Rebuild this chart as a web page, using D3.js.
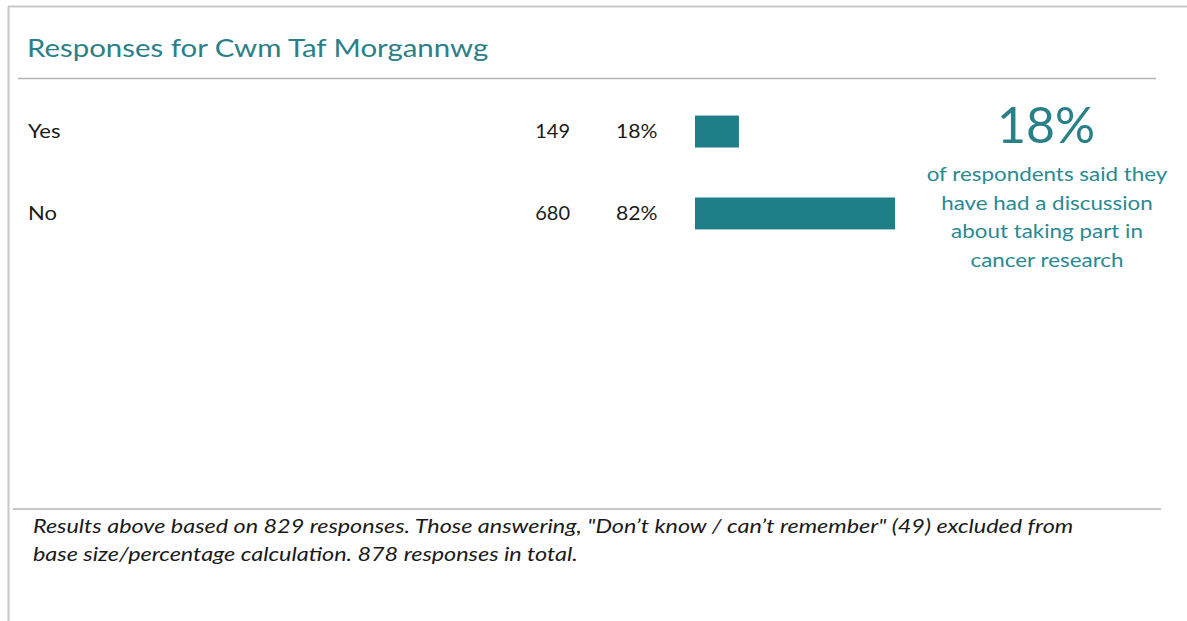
<!DOCTYPE html>
<html>
<head>
<meta charset="utf-8">
<script src="https://cdn.jsdelivr.net/npm/d3@7"></script>
<style>
  html, body { margin: 0; padding: 0; background: #fff; }
  svg { display: block; font-family: Lato, "Open Sans", sans-serif; }
</style>
</head>
<body>
<svg id="chart" width="1187" height="621"></svg>
<script>
const titleText = "Responses for Cwm Taf Morgannwg";
const categories = ["Yes", "No"];
const counts = [149, 680];
const percents = [18, 82];
const highlightValue = "18%";
const highlightLines = ["of respondents said they", "have had a discussion", "about taking part in", "cancer research"];
const footnoteLines = [
  "Results above based on 829 responses. Those answering, \"Don\u2019t know / can\u2019t remember\" (49) excluded from",
  "base size/percentage calculation. 878 responses in total."
];

const teal = "#1f7f88";
const svg = d3.select("#chart");

// frame
svg.append("line").attr("x1", 8).attr("x2", 1187).attr("y1", 6.5).attr("y2", 6.5)
  .attr("stroke", "#c8c8c8").attr("stroke-width", 2);
svg.append("line").attr("x1", 8.5).attr("x2", 8.5).attr("y1", 6).attr("y2", 621)
  .attr("stroke", "#c8c8c8").attr("stroke-width", 2);

// title
svg.append("g").attr("transform", "translate(27,0) scale(1.2,1)")
  .append("text").attr("x", 0).attr("y", 57).attr("fill", "#2a8088")
  .attr("font-size", 24.5).text(titleText);
svg.append("line").attr("x1", 18).attr("x2", 1156).attr("y1", 78.5).attr("y2", 78.5)
  .attr("stroke", "#b4b4b4").attr("stroke-width", 1.5);

// scales
const y = d3.scaleBand().domain(categories).range([91, 254]).paddingInner(0.61).paddingOuter(0.3);
const x = d3.scaleLinear().domain([0, 100]).range([695, 939]);

const rows = svg.append("g").selectAll("g").data(categories).join("g");
const yc = d => y(d) + y.bandwidth() / 2;
const fs = 20;

rows.append("text").attr("x", 28).attr("y", d => yc(d) + 6.5)
  .attr("font-size", fs).attr("fill", "#1a1a1a").text(d => d)
  .attr("transform", "translate(28,0) scale(1.1,1) translate(-28,0)");
rows.append("text").attr("x", 570).attr("y", d => yc(d) + 6.5).attr("text-anchor", "end")
  .attr("font-size", fs).attr("fill", "#1a1a1a").text((d, i) => counts[i]);
rows.append("text").attr("x", 616).attr("y", d => yc(d) + 6.5)
  .attr("font-size", fs).attr("fill", "#1a1a1a").text((d, i) => percents[i] + "%")
  .attr("transform", "translate(616,0) scale(1.06,1) translate(-616,0)");
rows.append("rect").attr("x", x(0)).attr("y", d => y(d))
  .attr("width", (d, i) => x(percents[i]) - x(0)).attr("height", y.bandwidth())
  .attr("fill", teal);

// highlight
svg.append("text").attr("x", 1046).attr("y", 143).attr("text-anchor", "middle")
  .attr("font-size", 50).attr("fill", "#2a8088").text(highlightValue);
svg.append("g").attr("transform", "translate(1047,0) scale(1.12,1)")
  .selectAll("text").data(highlightLines).join("text")
  .attr("x", 0).attr("y", (d, i) => 181 + i * 28.7).attr("text-anchor", "middle")
  .attr("font-size", 20).attr("fill", "#2a8a92").text(d => d);

// footnote
svg.append("line").attr("x1", 13).attr("x2", 1161).attr("y1", 509).attr("y2", 509)
  .attr("stroke", "#b4b4b4").attr("stroke-width", 1.5);
svg.append("g").attr("transform", "translate(33,0) scale(1.2,1)")
  .selectAll("text").data(footnoteLines).join("text")
  .attr("x", 0).attr("y", (d, i) => 533 + i * 28.5)
  .attr("font-size", 19.5).attr("font-style", "italic").attr("fill", "#1a1a1a").text(d => d);
</script>
</body>
</html>
